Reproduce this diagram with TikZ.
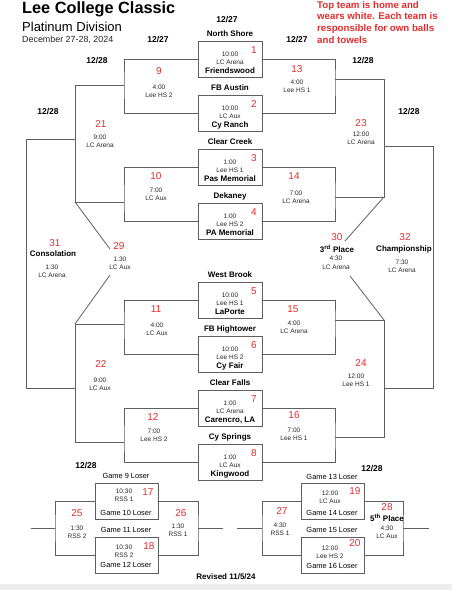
\documentclass[tikz,border=0pt]{standalone}
\usepackage{fontspec}
\setmainfont{Liberation Sans}
\definecolor{gamered}{RGB}{224,45,45}
\definecolor{linegray}{RGB}{95,95,95}

\begin{document}
\begin{tikzpicture}[x=1pt, y=-1pt,
    box/.style={draw=linegray, line width=0.9pt, minimum width=64pt, minimum height=36pt, inner sep=0pt},
    smallbox/.style={box, minimum width=63pt},
    bracket/.style={draw=linegray, line width=0.8pt},
    num/.style={text=gamered, font=\fontsize{10}{10}\selectfont, inner sep=0pt},
    info/.style={text=black!85, font=\fontsize{6.5}{7}\selectfont, inner sep=0pt},
    team/.style={font=\bfseries\fontsize{8}{8}\selectfont, inner sep=0pt},
    date/.style={font=\bfseries\fontsize{8.5}{9}\selectfont, inner sep=0pt},
    loser/.style={font=\fontsize{7.4}{8}\selectfont, inner sep=0pt}]

    \useasboundingbox (0,0) rectangle (452,590);
    \fill[black!7] (0,584) rectangle (452,590);

    \node at (22,9) (title) [anchor=west, inner sep=0pt, font=\bfseries\fontsize{16.3}{17}\selectfont] {Lee College Classic};
    \node at (22,27) (division) [anchor=west, inner sep=0pt, font=\fontsize{13}{14}\selectfont] {Platinum Division};
    \node at (22,40) (dates) [anchor=west, inner sep=0pt, text=black!85, font=\fontsize{8.9}{9}\selectfont] {December 27-28, 2024};
    \node at (317,1) (note) [anchor=north west, inner sep=0pt, align=left, text=gamered, font=\bfseries\fontsize{9.7}{11.7}\selectfont] {Top team is home and\\wears white. Each team is\\responsible for own balls\\and towels};

    \node at (227,20) (d0) [date] {12/27};
    \node at (158,40) (d9) [date] {12/27};
    \node at (297,40) (d13) [date] {12/27};
    \node at (97,61) (d21) [date] {12/28};
    \node at (363,61) (d23) [date] {12/28};
    \node at (48,112) (d31) [date] {12/28};
    \node at (409,112) (d32) [date] {12/28};
    \node at (86,465) (d25) [date] {12/28};
    \node at (372,468) (d27) [date] {12/28};

    % first round
    \node at (230,59) (g1) [box] {};
    \node at (230,113) (g2) [box] {};
    \node at (230,167) (g3) [box] {};
    \node at (230,221) (g4) [box] {};
    \node at (230,300) (g5) [box] {};
    \node at (230,354) (g6) [box] {};
    \node at (230,408) (g7) [box] {};
    \node at (230,462) (g8) [box] {};

    \node at (230,34) (t1a) [team] {North Shore};
    \node at (230,54) (h1) [info] {10:00};
    \node at (230,62) (p1) [info] {LC Arena};
    \node at (230,71) (t1b) [team] {Friendswood};
    \node at (254,50) (n1) [num] {1};

    \node at (230,88) (t2a) [team] {FB Austin};
    \node at (230,108) (h2) [info] {10:00};
    \node at (230,116) (p2) [info] {LC Aux};
    \node at (230,125) (t2b) [team] {Cy Ranch};
    \node at (254,104) (n2) [num] {2};

    \node at (230,142) (t3a) [team] {Clear Creek};
    \node at (230,162) (h3) [info] {1:00};
    \node at (230,170) (p3) [info] {Lee HS 1};
    \node at (230,179) (t3b) [team] {Pas Memorial};
    \node at (254,158) (n3) [num] {3};

    \node at (230,196) (t4a) [team] {Dekaney};
    \node at (230,216) (h4) [info] {1:00};
    \node at (230,224) (p4) [info] {Lee HS 2};
    \node at (230,233) (t4b) [team] {PA Memorial};
    \node at (254,212) (n4) [num] {4};

    \node at (230,275) (t5a) [team] {West Brook};
    \node at (230,295) (h5) [info] {10:00};
    \node at (230,303) (p5) [info] {Lee HS 1};
    \node at (230,312) (t5b) [team] {LaPorte};
    \node at (254,291) (n5) [num] {5};

    \node at (230,329) (t6a) [team] {FB Hightower};
    \node at (230,349) (h6) [info] {10:00};
    \node at (230,357) (p6) [info] {Lee HS 2};
    \node at (230,366) (t6b) [team] {Cy Fair};
    \node at (254,345) (n6) [num] {6};

    \node at (230,383) (t7a) [team] {Clear Falls};
    \node at (230,403) (h7) [info] {1:00};
    \node at (230,411) (p7) [info] {LC Arena};
    \node at (230,420) (t7b) [team] {Carencro, LA};
    \node at (254,399) (n7) [num] {7};

    \node at (230,437) (t8a) [team] {Cy Springs};
    \node at (230,457) (h8) [info] {1:00};
    \node at (230,465) (p8) [info] {LC Aux};
    \node at (230,474) (t8b) [team] {Kingwood};
    \node at (254,453) (n8) [num] {8};

    % joints
    \coordinate (j9) at (124,85);
    \coordinate (j10) at (124,202);
    \coordinate (j11) at (124,324);
    \coordinate (j12) at (124,442);
    \coordinate (j13) at (335,79);
    \coordinate (j14) at (335,197);
    \coordinate (j15) at (335,320);
    \coordinate (j16) at (335,437);
    \coordinate (c21) at (75,202);
    \coordinate (c22) at (75,324);
    \coordinate (c23) at (384,197);
    \coordinate (c24) at (384,320);
    \coordinate (j21) at (75,139);
    \coordinate (j22) at (75,388);
    \coordinate (j23) at (384,146);
    \coordinate (j24) at (384,388);
    \coordinate (c31a) at (26,139);
    \coordinate (c31b) at (26,388);
    \coordinate (c32a) at (433,146);
    \coordinate (c32b) at (433,388);
    \coordinate (e29a) at (110,249);
    \coordinate (e29b) at (110,275);
    \coordinate (e30a) at (345,241);
    \coordinate (e30b) at (350,276);

    \path[bracket] (g1.west) -| (j9) |- (g2.west);
    \path[bracket] (g3.west) -| (j10) |- (g4.west);
    \path[bracket] (g5.west) -| (j11) |- (g6.west);
    \path[bracket] (g7.west) -| (j12) |- (g8.west);
    \path[bracket] (g1.east) -| (j13) |- (g2.east);
    \path[bracket] (g3.east) -| (j14) |- (g4.east);
    \path[bracket] (g5.east) -| (j15) |- (g6.east);
    \path[bracket] (g7.east) -| (j16) |- (g8.east);

    \path[bracket] (j9) -| (c21) -- (j10);
    \path[bracket] (j11) -- (c22) |- (j12);
    \path[bracket] (j13) -| (c23) -- (j14);
    \path[bracket] (j15) -- (c24) |- (j16);
    \path[bracket] (j21) -- (c31a) -- (c31b) -- (j22);
    \path[bracket] (j23) -- (c32a) -- (c32b) -- (j24);
    \path[bracket] (c21) -- (e29a);
    \path[bracket] (e29b) -- (c22);
    \path[bracket] (c23) -- (e30a);
    \path[bracket] (e30b) -- (c24);

    \node at (159,71) (n9) [num] {9};
    \node at (159,87) (h9) [info] {4:00};
    \node at (159,95) (p9) [info] {Lee HS 2};
    \node at (156,176) (n10) [num] {10};
    \node at (156,190) (h10) [info] {7:00};
    \node at (156,198) (p10) [info] {LC Aux};
    \node at (156,309) (n11) [num] {11};
    \node at (157,325) (h11) [info] {4:00};
    \node at (157,333) (p11) [info] {LC Aux};
    \node at (153,417) (n12) [num] {12};
    \node at (154,431) (h12) [info] {7:00};
    \node at (154,439) (p12) [info] {Lee HS 2};
    \node at (297,69) (n13) [num] {13};
    \node at (297,82) (h13) [info] {4:00};
    \node at (297,90) (p13) [info] {Lee HS 1};
    \node at (294,176) (n14) [num] {14};
    \node at (296,193) (h14) [info] {7:00};
    \node at (296,201) (p14) [info] {LC Arena};
    \node at (293,309) (n15) [num] {15};
    \node at (294,323) (h15) [info] {4:00};
    \node at (294,331) (p15) [info] {LC Arena};
    \node at (294,415) (n16) [num] {16};
    \node at (294,430) (h16) [info] {7:00};
    \node at (294,438) (p16) [info] {Lee HS 1};

    \node at (101,124) (n21) [num] {21};
    \node at (100,137) (h21) [info] {9:00};
    \node at (100,145) (p21) [info] {LC Arena};
    \node at (101,364) (n22) [num] {22};
    \node at (100,380) (h22) [info] {9:00};
    \node at (100,388) (p22) [info] {LC Aux};
    \node at (361,123) (n23) [num] {23};
    \node at (361,134) (h23) [info] {12:00};
    \node at (361,142) (p23) [info] {LC Arena};
    \node at (361,363) (n24) [num] {24};
    \node at (356,376) (h24) [info] {12:00};
    \node at (356,384) (p24) [info] {Lee HS 1};

    \node at (119,246) (n29) [num] {29};
    \node at (120,259) (h29) [info] {1:30};
    \node at (120,267) (p29) [info] {LC Aux};
    \node at (337,237) (n30) [num] {30};
    \node at (337,249) (t30) [team] {3\textsuperscript{rd} Place};
    \node at (336,258) (h30) [info] {4:30};
    \node at (336,267) (p30) [info] {LC Arena};
    \node at (55,243) (n31) [num] {31};
    \node at (53,254) (t31) [team] {Consolation};
    \node at (52,267) (h31) [info] {1:30};
    \node at (52,275) (p31) [info] {LC Arena};
    \node at (405,237) (n32) [num] {32};
    \node at (404,249) (t32) [team] {Championship};
    \node at (402,262) (h32) [info] {7:30};
    \node at (402,270) (p32) [info] {LC Arena};

    % losers bracket
    \node at (126.5,501) (g17) [smallbox] {};
    \node at (126.5,555) (g18) [smallbox] {};
    \node at (332.5,501) (g19) [smallbox] {};
    \node at (332.5,555) (g20) [smallbox] {};

    \node at (126,476) (l17a) [loser] {Game 9 Loser};
    \node at (124,491) (h17) [info] {10:30};
    \node at (124,499) (p17) [info] {RSS 1};
    \node at (148,492) (n17) [num] {17};
    \node at (126,513) (l17b) [loser] {Game 10 Loser};

    \node at (126,530) (l18a) [loser] {Game 11 Loser};
    \node at (124,547) (h18) [info] {10:30};
    \node at (124,555) (p18) [info] {RSS 2};
    \node at (149,546) (n18) [num] {18};
    \node at (126,565) (l18b) [loser] {Game 12 Loser};

    \node at (332,477) (l19a) [loser] {Game 13 Loser};
    \node at (330,493) (h19) [info] {12:00};
    \node at (330,501) (p19) [info] {LC Aux};
    \node at (355,491) (n19) [num] {19};
    \node at (332,513) (l19b) [loser] {Game 14 Loser};

    \node at (332,530) (l20a) [loser] {Game 15 Loser};
    \node at (330,548) (h20) [info] {12:00};
    \node at (330,556) (p20) [info] {Lee HS 2};
    \node at (355,543) (n20) [num] {20};
    \node at (332,566) (l20b) [loser] {Game 16 Loser};

    \coordinate (j25) at (55,528);
    \coordinate (s25) at (31,528);
    \coordinate (j26) at (198,528);
    \coordinate (s26) at (223,528);
    \coordinate (j27) at (262,528);
    \coordinate (s27) at (237,528);
    \coordinate (j28) at (403,528);
    \coordinate (s28) at (429,528);

    \path[bracket] (g17.west) -| (j25) |- (g18.west);
    \path[bracket] (g17.east) -| (j26) |- (g18.east);
    \path[bracket] (g19.west) -| (j27) |- (g20.west);
    \path[bracket] (g19.east) -| (j28) |- (g20.east);
    \path[bracket] (j25) -- (s25);
    \path[bracket] (j26) -- (s26);
    \path[bracket] (j27) -- (s27);
    \path[bracket] (j28) -- (s28);

    \node at (77,513) (n25) [num] {25};
    \node at (77,528) (h25) [info] {1:30};
    \node at (77,536) (p25) [info] {RSS 2};
    \node at (181,513) (n26) [num] {26};
    \node at (178,526) (h26) [info] {1:30};
    \node at (178,534) (p26) [info] {RSS 1};
    \node at (282,511) (n27) [num] {27};
    \node at (280,525) (h27) [info] {4:30};
    \node at (280,533) (p27) [info] {RSS 1};
    \node at (387,507) (n28) [num] {28};
    \node at (387,518) (t28) [team] {5\textsuperscript{th} Place};
    \node at (387,528) (h28) [info] {4:30};
    \node at (387,536) (p28) [info] {LC Aux};

    \node at (226,577) (rev) [team] {Revised 11/5/24};

\end{tikzpicture}
\end{document}
